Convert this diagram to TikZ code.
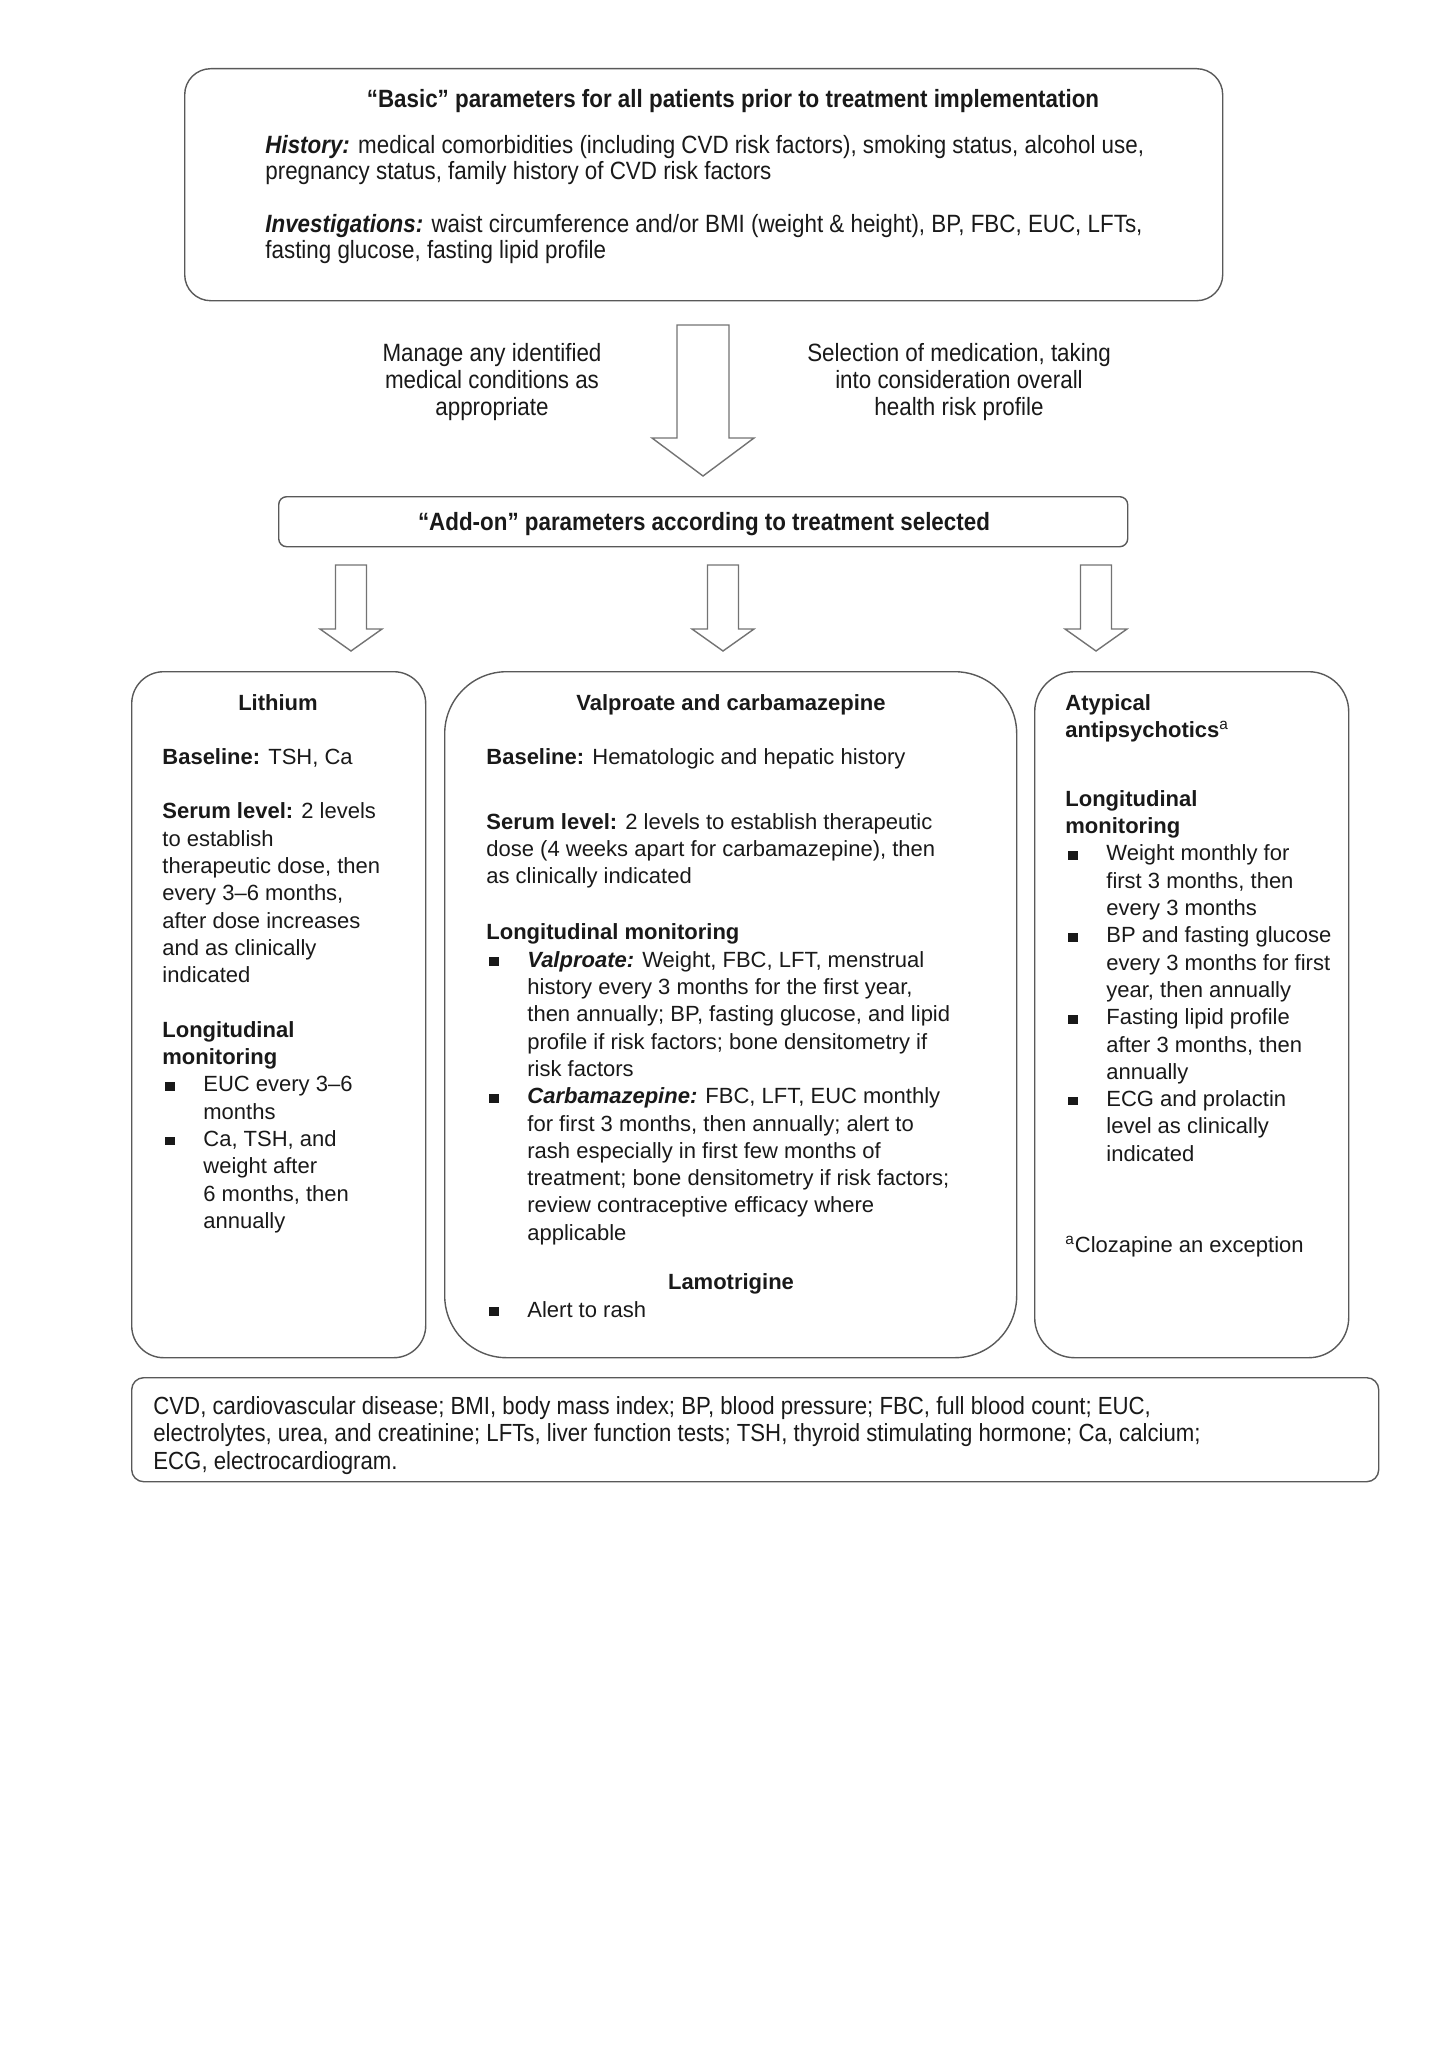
\documentclass[tikz,border=0pt]{standalone}
\usepackage{fontspec}
\setmainfont{Liberation Sans}
\newfontfamily\narrowfont{Liberation Sans}[FakeStretch=0.895]
\usetikzlibrary{positioning}

% bullets inside the panels
\newcommand{\blt}{\hspace*{1.5pt}\makebox[19pt][l]{\rule[0.6pt]{4.6pt}{4.4pt}}}
\newcommand{\cnt}{\hspace*{20.5pt}}
% hollow block arrow: x, top, head base, tip, shaft half, head half
\newcommand{\blockarrow}[6]{%
  \draw[hollow] (#1-#5,#2) -- (#1+#5,#2) -- (#1+#5,#3) -- (#1+#6,#3)
    -- (#1,#4) -- (#1-#6,#3) -- (#1-#5,#3) -- cycle;}

\tikzset{
  panel/.style={draw=black!65, line width=0.7pt, rounded corners=#1,
    inner sep=0pt, anchor=north west},
  hollow/.style={draw=black!55, line width=0.7pt, fill=white},
  txt/.style={inner sep=0pt, align=left, anchor=north west, text=black!90,
    font=\fontsize{11}{13.65}\selectfont},
  head/.style={inner sep=0pt, anchor=base, text=black!90,
    font=\fontsize{11}{13.65}\selectfont\bfseries},
  ntxt/.style={inner sep=0pt, text=black!90,
    font=\narrowfont\fontsize{12.5}{13.15}\selectfont},
}

\begin{document}
\begin{tikzpicture}[x=0.5pt,y=-0.5pt]
  \path[use as bounding box] (0,0) rectangle (1448,2050);

  % boxes
  \node[panel=13pt, minimum width=519pt, minimum height=116pt] (basic) at (184,68) {};
  \node[panel=4pt, minimum width=424.5pt, minimum height=25pt] (addon) at (278,496) {};
  \node[panel=16pt, minimum width=147pt, minimum height=343pt] (lith) at (131,671) {};
  \node[panel=31pt, minimum width=286pt, minimum height=343pt] (valp) at (444,671) {};
  \node[panel=20pt, minimum width=157pt, minimum height=343pt] (atyp) at (1034,671) {};
  \node[panel=6pt, minimum width=623.5pt, minimum height=52pt] (abbr) at (131,1377) {};

  % top box
  \node[ntxt, anchor=base, font=\narrowfont\fontsize{12.5}{13.15}\selectfont\bfseries]
    (basictitle) at (733,108) {“Basic” parameters for all patients prior to treatment implementation};
  \node[ntxt, anchor=north west, align=left] (basictext) at (265,135)
    {\textbf{\textit{History:}} medical comorbidities (including CVD risk factors), smoking status, alcohol use,\\
     pregnancy status, family history of CVD risk factors\\[13.15pt]
     \textbf{\textit{Investigations:}} waist circumference and/or BMI (weight \& height), BP, FBC, EUC, LFTs,\\
     fasting glucose, fasting lipid profile};

  % arrows to the add-on box
  \blockarrow{703}{325}{438}{476}{26}{51}
  \node[ntxt, anchor=north, align=center, font=\narrowfont\fontsize{12.5}{13.5}\selectfont]
    (manage) at (492,343) {Manage any identified\\medical conditions as\\appropriate};
  \node[ntxt, anchor=north, align=center, font=\narrowfont\fontsize{12.5}{13.5}\selectfont]
    (select) at (959,343) {Selection of medication, taking\\into consideration overall\\health risk profile};
  \node[ntxt, anchor=base, font=\narrowfont\fontsize{12.5}{13.5}\selectfont\bfseries]
    (addontitle) at (704,530) {“Add-on” parameters according to treatment selected};

  \blockarrow{351}{565}{629}{651}{15.5}{31}
  \blockarrow{723}{565}{629}{651}{15.5}{31}
  \blockarrow{1096}{565}{629}{651}{15.5}{31}

  % lithium
  \node[head] (lithtitle) at (278,710) {Lithium};
  \node[txt] (lithtext) at (162,748)
    {\textbf{Baseline:} TSH, Ca\\[13.65pt]
     \textbf{Serum level:} 2 levels\\
     to establish\\
     therapeutic dose, then\\
     every 3–6 months,\\
     after dose increases\\
     and as clinically\\
     indicated\\[13.65pt]
     \textbf{Longitudinal}\\
     \textbf{monitoring}\\
     \blt EUC every 3–6\\
     \cnt months\\
     \blt Ca, TSH, and\\
     \cnt weight after\\
     \cnt 6 months, then\\
     \cnt annually};

  % valproate and carbamazepine
  \node[head] (valptitle) at (731,710) {Valproate and carbamazepine};
  \node[txt] (valptext) at (486,748)
    {\textbf{Baseline:} Hematologic and hepatic history\\[18.85pt]
     \textbf{Serum level:} 2 levels to establish therapeutic\\
     dose (4 weeks apart for carbamazepine), then\\
     as clinically indicated\\[14.35pt]
     \fontsize{11}{13.4}\selectfont
     \textbf{Longitudinal monitoring}\\
     \blt\textbf{\textit{Valproate:}} Weight, FBC, LFT, menstrual\\
     \cnt history every 3 months for the first year,\\
     \cnt then annually; BP, fasting glucose, and lipid\\
     \cnt profile if risk factors; bone densitometry if\\
     \cnt risk factors\\
     \blt\textbf{\textit{Carbamazepine:}} FBC, LFT, EUC monthly\\
     \cnt for first 3 months, then annually; alert to\\
     \cnt rash especially in first few months of\\
     \cnt treatment; bone densitometry if risk factors;\\
     \cnt review contraceptive efficacy where\\
     \cnt applicable};
  \node[head] (lamotitle) at (731,1289) {Lamotrigine};
  \node[txt, anchor=base west] (lamotext) at (486,1317) {\blt Alert to rash};

  % atypical antipsychotics
  \node[txt, font=\fontsize{11}{13.65}\selectfont\bfseries] (atyptitle) at (1065,694)
    {Atypical\\antipsychotics\textsuperscript{\mdseries a}};
  \node[txt] (atyptext) at (1065,790)
    {\textbf{Longitudinal}\\
     \textbf{monitoring}\\
     \blt Weight monthly for\\
     \cnt first 3 months, then\\
     \cnt every 3 months\\
     \blt BP and fasting glucose\\
     \cnt every 3 months for first\\
     \cnt year, then annually\\
     \blt Fasting lipid profile\\
     \cnt after 3 months, then\\
     \cnt annually\\
     \blt ECG and prolactin\\
     \cnt level as clinically\\
     \cnt indicated};
  \node[txt, anchor=base west] (atypnote) at (1065,1252) {\textsuperscript{a}Clozapine an exception};

  % abbreviations
  \node[ntxt, anchor=north west, align=left, font=\narrowfont\fontsize{12.4}{13.8}\selectfont]
    (abbrtext) at (153,1396)
    {CVD, cardiovascular disease; BMI, body mass index; BP, blood pressure; FBC, full blood count; EUC,\\
     electrolytes, urea, and creatinine; LFTs, liver function tests; TSH, thyroid stimulating hormone; Ca, calcium;\\
     ECG, electrocardiogram.};
\end{tikzpicture}
\end{document}
